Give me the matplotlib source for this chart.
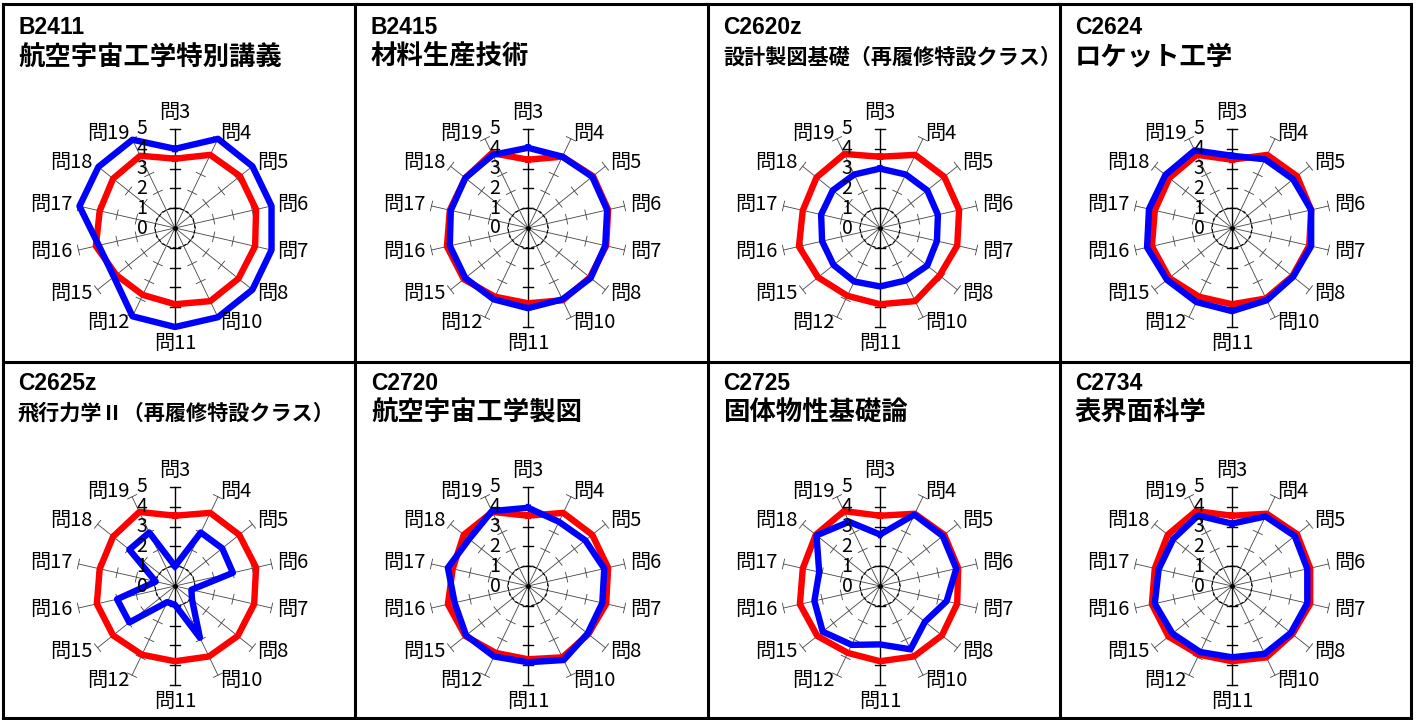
import numpy as np
import matplotlib
matplotlib.use("Agg")
import matplotlib.pyplot as plt
from matplotlib.lines import Line2D

plt.rcParams['font.family'] = ['Noto Sans CJK JP', 'DejaVu Sans']

questions = ["問3", "問4", "問5", "問6", "問7", "問8", "問10", "問11",
             "問12", "問15", "問16", "問17", "問18", "問19"]
scale_labels = [0, 1, 2, 3, 4, 5]

codes = ["B2411", "B2415", "C2620z", "C2624",
         "C2625z", "C2720", "C2725", "C2734"]
names = ["航空宇宙工学特別講義", "材料生産技術", "設計製図基礎（再履修特設クラス）", "ロケット工学",
         "飛行力学Ⅱ（再履修特設クラス）", "航空宇宙工学製図", "固体物性基礎論", "表界面科学"]

# red = reference average, blue = this course
red_B2411 = [3.5, 4.1, 4.2, 4.2, 4.15, 4.1, 4.1, 3.85, 3.75, 3.8, 4.1, 3.9, 4.0, 4.05]
blue_B2411 = [4.0, 5.0, 5.0, 5.0, 5.0, 5.0, 5.0, 5.0, 4.95, 3.95, 3.95, 4.95, 4.95, 4.95]
red_B2415 = [3.45, 4.0, 4.2, 4.15, 4.05, 4.0, 4.05, 3.8, 3.85, 4.15, 4.2, 4.05, 4.05, 4.2]
blue_B2415 = [4.05, 4.0, 4.15, 4.1, 4.0, 4.05, 4.0, 4.05, 4.0, 4.05, 4.05, 4.0, 4.05, 4.1]
red_C2620z = [3.6, 4.1, 4.15, 4.1, 4.0, 3.85, 4.1, 3.85, 3.8, 4.0, 4.2, 4.0, 4.1, 4.15]
blue_C2620z = [3.0, 3.0, 3.05, 3.0, 2.95, 3.05, 2.95, 2.95, 3.0, 3.0, 3.0, 3.05, 3.05, 3.0]
red_C2624 = [3.45, 4.1, 4.2, 4.1, 4.0, 3.9, 3.95, 3.85, 3.85, 4.05, 4.15, 4.0, 4.05, 4.1]
blue_C2624 = [3.65, 3.85, 3.95, 4.1, 4.1, 3.95, 4.05, 4.2, 4.15, 4.2, 4.4, 4.3, 4.3, 4.35]
red_C2625z = [3.55, 4.1, 4.15, 4.2, 4.1, 4.05, 3.95, 3.8, 3.85, 4.0, 4.05, 3.9, 4.0, 4.15]
blue_C2625z = [1.0, 3.0, 3.05, 3.0, 0.85, 1.1, 2.9, 0.95, 0.9, 2.95, 3.0, 1.0, 2.95, 3.0]
red_C2720 = [3.55, 4.1, 4.15, 4.15, 4.05, 3.9, 4.0, 3.7, 3.75, 4.05, 4.15, 3.9, 4.15, 4.15]
blue_C2720 = [3.95, 3.6, 3.7, 3.95, 3.85, 3.85, 4.15, 3.85, 3.95, 4.0, 3.8, 4.15, 3.8, 4.2]
red_C2725 = [3.55, 4.05, 4.15, 4.05, 4.0, 4.0, 3.95, 3.8, 3.75, 4.05, 4.15, 4.0, 4.15, 4.2]
blue_C2725 = [2.6, 4.0, 4.05, 3.95, 3.45, 2.9, 3.55, 2.95, 3.3, 3.7, 3.4, 3.15, 4.1, 3.6]
red_C2734 = [3.55, 4.05, 4.2, 4.05, 4.05, 3.9, 4.0, 3.8, 3.85, 4.1, 4.15, 4.0, 4.15, 4.2]
blue_C2734 = [3.15, 3.9, 4.05, 3.9, 3.9, 3.8, 3.8, 3.6, 3.7, 3.85, 4.0, 3.8, 3.8, 3.95]

reds = [red_B2411, red_B2415, red_C2620z, red_C2624,
        red_C2625z, red_C2720, red_C2725, red_C2734]
blues = [blue_B2411, blue_B2415, blue_C2620z, blue_C2624,
         blue_C2625z, blue_C2720, blue_C2725, blue_C2734]

W, H = 1416, 720
fig = plt.figure(figsize=(W / 100, H / 100), dpi=100)
fig.patch.set_facecolor("white")

# layout in pixels
centers_x = [175, 528, 880, 1232]
centers_y = [228, 586]
R = 99
panel_left = [3, 356, 708, 1060]
code_y = [27, 383]
name_y = [57, 413]

n = len(questions)
theta = np.arange(n) * 2 * np.pi / n
theta_c = np.append(theta, theta[0])
rmax = 5
px = rmax / R  # one pixel in data units
tick_half = 5 * px

for i in range(8):
    row, col = divmod(i, 4)
    cx, cy = centers_x[col], centers_y[row]
    ax = fig.add_axes([(cx - R) / W, 1 - (cy + R) / H, 2 * R / W, 2 * R / H],
                      projection="polar")
    ax.set_theta_zero_location("N")
    ax.set_theta_direction(-1)
    ax.set_ylim(0, rmax)
    ax.axis("off")

    # spokes with cross ticks
    for k, t in enumerate(theta):
        main = k == 0 or k == 7
        c = "black" if main else "#444444"
        w = 1.0 if main else 0.6
        ax.plot([t, t], [0, rmax], color=c, lw=w, clip_on=False, zorder=1)
        for r in range(1, rmax + 1):
            dt = np.arctan(tick_half / r)
            rr = np.hypot(r, tick_half)
            ax.plot([t - dt, t + dt], [rr, rr], color=c, lw=w, clip_on=False, zorder=1)
    circ = np.linspace(0, 2 * np.pi, 200)
    ax.plot(circ, np.ones_like(circ), color="black", lw=0.8,
            ls=(0, (3, 2)), clip_on=False, zorder=1)
    ax.plot([0], [0], "o", color="black", ms=2.5, zorder=2)

    ax.plot(theta_c, np.append(reds[i], reds[i][0]), color="#FF0000",
            lw=4.6, clip_on=False, zorder=3)
    ax.plot(theta_c, np.append(blues[i], blues[i][0]), color="#0000FF",
            lw=4.6, clip_on=False, zorder=4)

    for v in scale_labels:
        ax.annotate(str(v), xy=(0, v), xytext=(-33, 0), textcoords="offset pixels",
                    ha="center", va="center", fontsize=14, zorder=6)
    for t, q in zip(theta, questions):
        s = np.sin(t)
        if abs(s) < 0.1:
            ax.text(t, 5.85, q, ha="center", va="center", fontsize=14.5, zorder=6)
        else:
            ax.text(t, 105 * px, q, ha="left" if s > 0 else "right",
                    va="center", fontsize=14.5, zorder=6)

    x0 = panel_left[col] + 15
    fig.text(x0 / W, 1 - code_y[row] / H, codes[i], ha="left", va="center",
             fontsize=16.5, fontweight="bold",
             family=["Liberation Sans", "Noto Sans CJK JP"])
    fs = 19 if len(names[i]) < 12 else 15.2
    fig.text(x0 / W, 1 - name_y[row] / H, names[i], ha="left", va="center",
             fontsize=fs, fontweight="bold")

# panel frames
lw_frame = 2.2
for x in [3, 355, 708, 1060, 1411]:
    fig.add_artist(Line2D([x / W, x / W], [1 - 4 / H, 1 - 718 / H],
                          color="black", lw=lw_frame))
for y in [4, 362, 718]:
    fig.add_artist(Line2D([3 / W, 1411 / W], [1 - y / H, 1 - y / H],
                          color="black", lw=lw_frame))

fig.savefig("out.png", dpi=100)
